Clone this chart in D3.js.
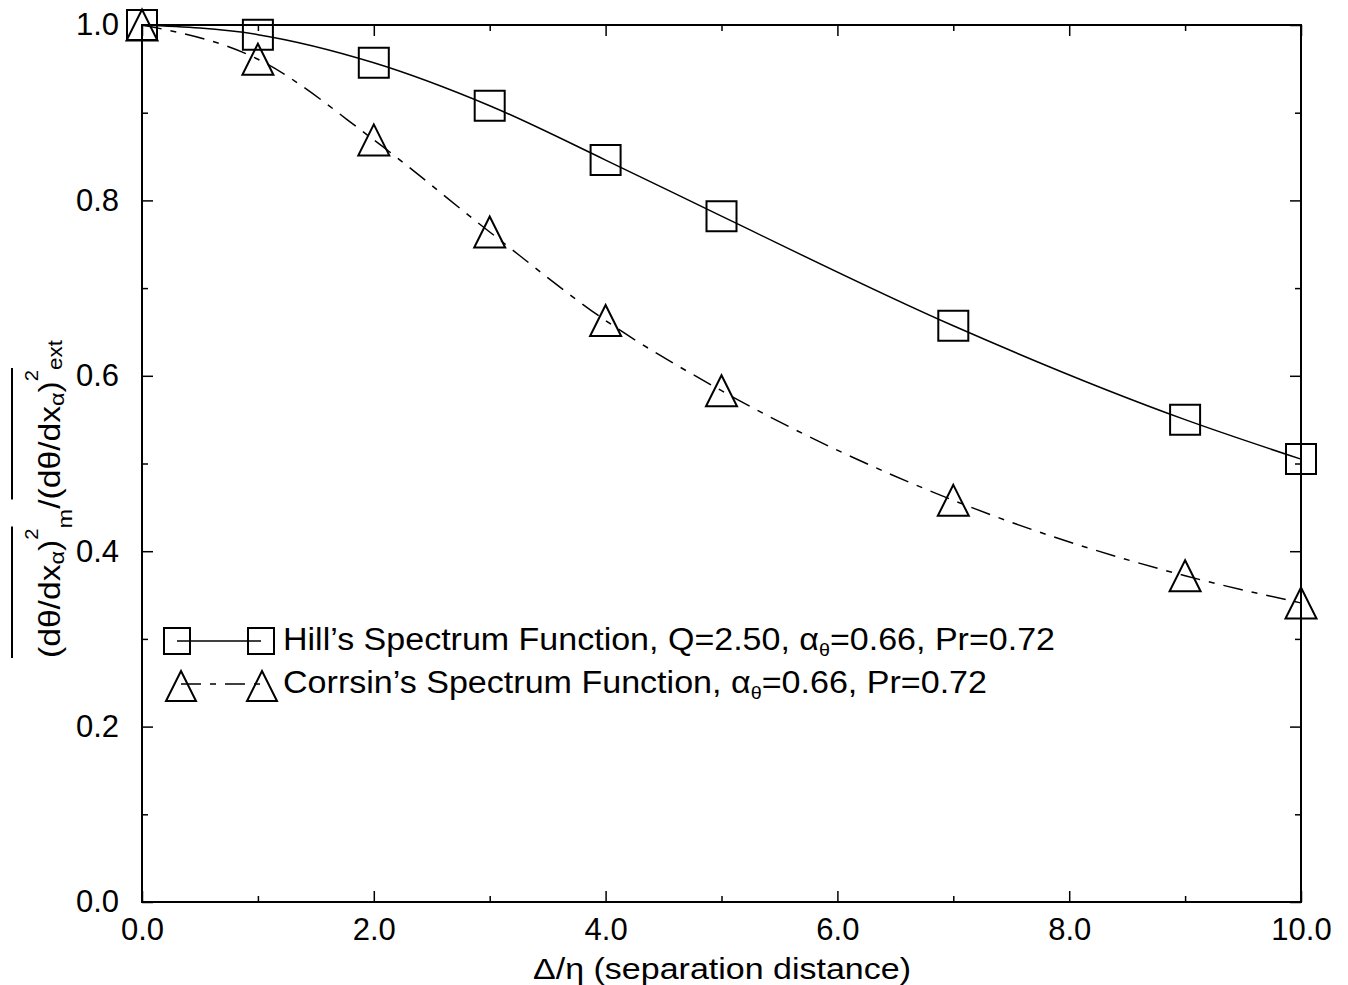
<!DOCTYPE html>
<html>
<head>
<meta charset="utf-8">
<script src="https://cdn.jsdelivr.net/npm/d3@7"></script>
<style>
  body { margin: 0; background: #fff; }
  text { font-family: "Liberation Sans", Arial, sans-serif; fill: #000; }
</style>
</head>
<body>
<script>
// values
const xValues = [0, 1, 2, 3, 4, 5, 7, 9, 10]
const hillValues = [1.0, 0.989, 0.957, 0.908, 0.846, 0.782, 0.657, 0.550, 0.505]
const corrsinValues = [1.0, 0.961, 0.869, 0.764, 0.663, 0.583, 0.458, 0.372, 0.341]

const xMajorTicks = [0, 2, 4, 6, 8, 10]
const xMinorTicks = [1, 3, 5, 7, 9]
const yMajorTicks = [0, 0.2, 0.4, 0.6, 0.8, 1.0]
const yMinorTicks = [0.1, 0.3, 0.5, 0.7, 0.9]

const hillLabel = ['Hill’s Spectrum Function, Q=2.50, α', 'θ', '=0.66, Pr=0.72']
const corrsinLabel = ['Corrsin’s Spectrum Function, α', 'θ', '=0.66, Pr=0.72']
const xTitle = 'Δ/η (separation distance)'

const width = 1348
const height = 985
const plotLeft = 142
const plotRight = 1301
const plotTop = 25
const plotBottom = 902

const svg = d3.select('body').append('svg')
  .attr('width', width)
  .attr('height', height)

const x = d3.scaleLinear().domain([0, 10]).range([plotLeft, plotRight])
const y = d3.scaleLinear().domain([0, 1]).range([plotBottom, plotTop])

// axes, ticks pointing inward on all four sides
function styleAxis (g) {
  g.select('.domain').remove()
  g.selectAll('.tick line').attr('stroke', '#000').attr('stroke-width', 1.5)
  g.selectAll('.tick text').attr('font-size', 31).attr('font-family', '"Liberation Sans", Arial, sans-serif')
}

svg.append('g').attr('transform', `translate(0,${plotBottom})`)
  .call(d3.axisBottom(x).tickValues(xMajorTicks).tickSize(-11).tickPadding(16).tickFormat(d3.format('.1f')))
  .call(styleAxis)
svg.append('g').attr('transform', `translate(0,${plotBottom})`)
  .call(d3.axisBottom(x).tickValues(xMinorTicks).tickSize(-6).tickFormat(''))
  .call(styleAxis)
svg.append('g').attr('transform', `translate(0,${plotTop})`)
  .call(d3.axisTop(x).tickValues(xMajorTicks).tickSize(-11).tickFormat(''))
  .call(styleAxis)
svg.append('g').attr('transform', `translate(0,${plotTop})`)
  .call(d3.axisTop(x).tickValues(xMinorTicks).tickSize(-6).tickFormat(''))
  .call(styleAxis)

svg.append('g').attr('transform', `translate(${plotLeft},0)`)
  .call(d3.axisLeft(y).tickValues(yMajorTicks).tickSize(-11).tickPadding(23).tickFormat(d3.format('.1f')))
  .call(styleAxis)
svg.append('g').attr('transform', `translate(${plotLeft},0)`)
  .call(d3.axisLeft(y).tickValues(yMinorTicks).tickSize(-6).tickFormat(''))
  .call(styleAxis)
svg.append('g').attr('transform', `translate(${plotRight},0)`)
  .call(d3.axisRight(y).tickValues(yMajorTicks).tickSize(-11).tickFormat(''))
  .call(styleAxis)
svg.append('g').attr('transform', `translate(${plotRight},0)`)
  .call(d3.axisRight(y).tickValues(yMinorTicks).tickSize(-6).tickFormat(''))
  .call(styleAxis)

svg.append('rect')
  .attr('x', plotLeft).attr('y', plotTop)
  .attr('width', plotRight - plotLeft).attr('height', plotBottom - plotTop)
  .attr('fill', 'none').attr('stroke', '#000').attr('stroke-width', 2)

// curves
const line = d3.line()
  .x((d, i) => x(xValues[i]))
  .y(d => y(d))
  .curve(d3.curveMonotoneX)

svg.append('path').datum(hillValues)
  .attr('d', line)
  .attr('fill', 'none').attr('stroke', '#000').attr('stroke-width', 1.5)

svg.append('path').datum(corrsinValues)
  .attr('d', line)
  .attr('fill', 'none').attr('stroke', '#000').attr('stroke-width', 1.5)
  .attr('stroke-dasharray', '20,9,6,9')

// markers
const square = d3.symbol().type(d3.symbolSquare).size(30 * 30)
const triangle = s => `M0,${-s / 2}L${s / 2},${s / 2}L${-s / 2},${s / 2}Z`

svg.append('g').selectAll('path').data(hillValues).join('path')
  .attr('transform', (d, i) => `translate(${x(xValues[i])},${y(d)})`)
  .attr('d', square)
  .attr('fill', 'none').attr('stroke', '#000').attr('stroke-width', 2)

svg.append('g').selectAll('path').data(corrsinValues).join('path')
  .attr('transform', (d, i) => `translate(${x(xValues[i])},${y(d)})`)
  .attr('d', triangle(31))
  .attr('fill', 'none').attr('stroke', '#000').attr('stroke-width', 2)

// legend
const legend = svg.append('g')
const legendSquare = d3.symbol().type(d3.symbolSquare).size(26 * 26)

legend.append('line')
  .attr('x1', 177).attr('x2', 261).attr('y1', 641).attr('y2', 641)
  .attr('stroke', '#000').attr('stroke-width', 1.5)
legend.selectAll('.sq').data([177, 261]).join('path')
  .attr('transform', d => `translate(${d},641)`)
  .attr('d', legendSquare)
  .attr('fill', 'none').attr('stroke', '#000').attr('stroke-width', 2)

legend.append('line')
  .attr('x1', 181).attr('x2', 262).attr('y1', 684).attr('y2', 684)
  .attr('stroke', '#000').attr('stroke-width', 1.5)
  .attr('stroke-dasharray', '20,9,6,9')
legend.selectAll('.tr').data([181, 262]).join('path')
  .attr('transform', d => `translate(${d},686)`)
  .attr('d', triangle(30))
  .attr('fill', 'none').attr('stroke', '#000').attr('stroke-width', 2)

function legendText (parts, yPos, len) {
  const t = legend.append('text')
    .attr('x', 283).attr('y', yPos)
    .attr('font-size', 31)
  t.append('tspan').text(parts[0])
  t.append('tspan').attr('font-size', 18).attr('dy', 6).text(parts[1])
  t.append('tspan').attr('dy', -6).text(parts[2])
  t.attr('textLength', len).attr('lengthAdjust', 'spacingAndGlyphs')
}
legendText(hillLabel, 650, 772)
legendText(corrsinLabel, 693, 704)

// x title
svg.append('text')
  .attr('x', 533).attr('y', 979)
  .attr('font-size', 30)
  .attr('textLength', 378).attr('lengthAdjust', 'spacingAndGlyphs')
  .text(xTitle)

// y title with overlines
const yt = svg.append('g').attr('transform', 'translate(60,658) rotate(-90)')
const ytext = yt.append('text').attr('x', 0).attr('y', 0).attr('font-size', 30)
ytext.append('tspan').text('(dθ/dx')
ytext.append('tspan').attr('font-size', 21).attr('dy', 4).text('α')
ytext.append('tspan').attr('dy', -4).text(')')
ytext.append('tspan').attr('font-size', 18).attr('dy', -22).text('2')
ytext.append('tspan').attr('font-size', 21).attr('dy', 34).text('m')
ytext.append('tspan').attr('dy', -12).text('/(dθ/dx')
ytext.append('tspan').attr('font-size', 21).attr('dy', 4).text('α')
ytext.append('tspan').attr('dy', -4).text(')')
ytext.append('tspan').attr('font-size', 18).attr('dy', -22).text('2')
ytext.append('tspan').attr('font-size', 20).attr('dy', 24).text('ext')
ytext.attr('textLength', 318).attr('lengthAdjust', 'spacingAndGlyphs')

const node = ytext.node()
const over = [[0, 8], [11, 19]]
over.forEach(([a, b]) => {
  const ea = node.getExtentOfChar(a)
  const eb = node.getExtentOfChar(b)
  yt.append('line')
    .attr('x1', ea.x).attr('x2', eb.x + eb.width + 2)
    .attr('y1', -48).attr('y2', -48)
    .attr('stroke', '#000').attr('stroke-width', 2)
})
</script>
</body>
</html>
